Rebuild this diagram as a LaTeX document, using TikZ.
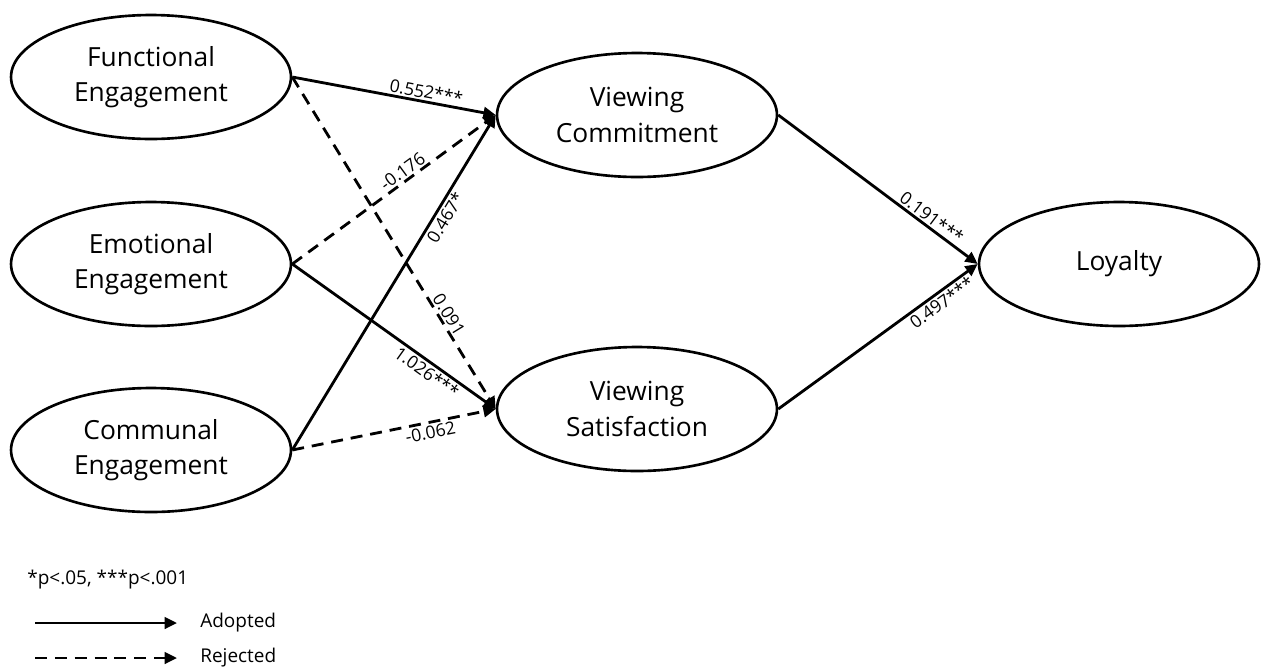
\documentclass[tikz,border=0pt]{standalone}
\usepackage{fontspec}
\setmainfont{Open Sans}
\usetikzlibrary{arrows.meta,positioning,shapes.geometric}

\begin{document}
\begin{tikzpicture}[x=0.02cm,y=-0.02cm,
		construct/.style={ellipse,draw,line width=1.5pt,minimum width=5.6cm,minimum height=2.48cm,align=center,font=\fontsize{15}{20}\selectfont},
		adopted/.style={line width=1.6pt,-{Triangle[length=7pt,width=6.5pt]}},
		rejected/.style={adopted,dash pattern=on 6.8pt off 4.5pt},
		coef/.style={font=\fontsize{10}{12}\selectfont,sloped,inner sep=1pt},
		legendtext/.style={font=\fontsize{10.8}{13}\selectfont,anchor=west,inner sep=0pt}]
		
		\useasboundingbox (0,0) rectangle (1263,670);
		
		\node[construct]
		(func) at (151,77)
		{Functional\\Engagement};
		
		\node[construct]
		(emo) at (151,264)
		{Emotional\\Engagement};
		
		\node[construct]
		(comm) at (151,450)
		{Communal\\Engagement};
		
		\node[construct]
		(vc) at (637,115)
		{Viewing\\Commitment};
		
		\node[construct]
		(vs) at (637,409)
		{Viewing\\Satisfaction};
		
		\node[construct]
		(loy) at (1119,264)
		{Loyalty};
		
		\draw[adopted]
		(func.east) -- node[coef,pos=0.65,above] {0.552***} (vc.west);
		
		\draw[rejected]
		(func.east) -- node[coef,pos=0.73,above] {0.091} (vs.west);
		
		\draw[rejected]
		(emo.east) -- node[coef,pos=0.57,above] {-0.176} (vc.west);
		
		\draw[adopted]
		(emo.east) -- node[coef,pos=0.69,below] {1.026***} (vs.west);
		
		\draw[adopted]
		(comm.east) -- node[coef,pos=0.71,below] {0.467*} (vc.west);
		
		\draw[rejected]
		(comm.east) -- node[coef,pos=0.67,below] {-0.062} (vs.west);
		
		\draw[adopted]
		(vc.east) -- node[coef,pos=0.74,above] {0.191***} (loy.west);
		
		\draw[adopted]
		(vs.east) -- node[coef,pos=0.79,below] {0.497***} (loy.west);
		
		\node[legendtext]
		(note) at (27,580)
		{*p<.05, ***p<.001};
		
		\coordinate (adstart) at (35,623);
		\coordinate (adend) at (177,623);
		\node[legendtext]
		(adlabel) at (200,623)
		{Adopted};
		\draw[adopted]
		(adstart) -- (adend);
		
		\coordinate (rjstart) at (35,658);
		\coordinate (rjend) at (177,658);
		\node[legendtext]
		(rjlabel) at (200,658)
		{Rejected};
		\draw[rejected]
		(rjstart) -- (rjend);
		
	\end{tikzpicture}
\end{document}
